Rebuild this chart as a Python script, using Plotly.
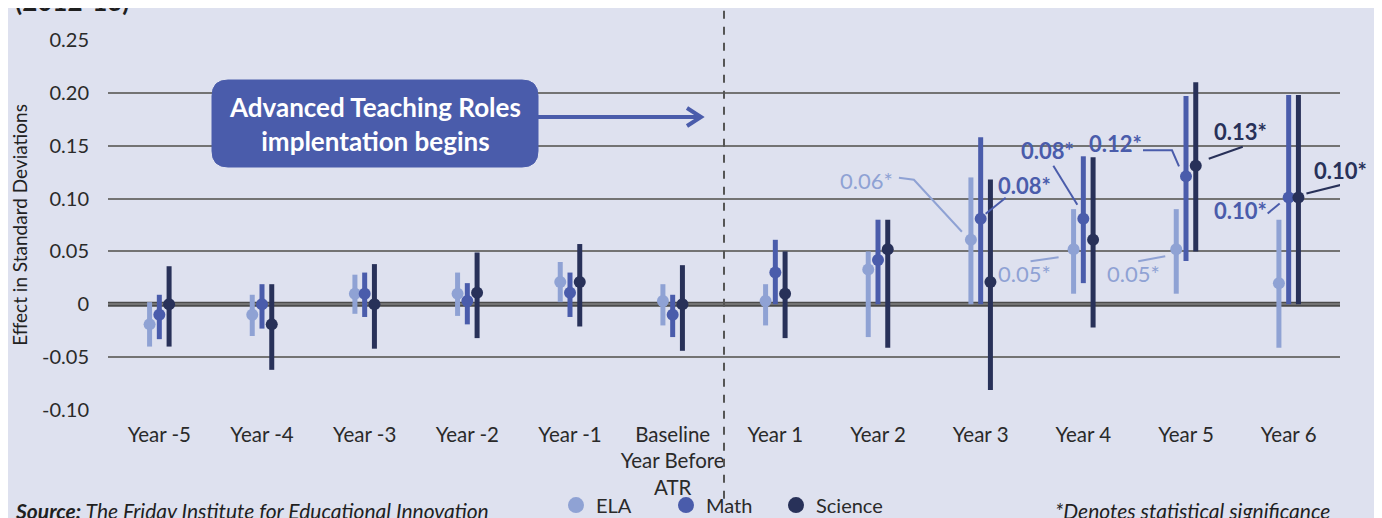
import plotly.graph_objects as go

# ---------------- data ----------------
categories = ["Year -5", "Year -4", "Year -3", "Year -2", "Year -1",
              "Baseline<br>Year Before<br>ATR",
              "Year 1", "Year 2", "Year 3", "Year 4", "Year 5", "Year 6"]

ela_est = [-0.019, -0.010, 0.010, 0.010, 0.021, 0.003, 0.003, 0.033, 0.061, 0.052, 0.052, 0.020]
ela_lo = [-0.040, -0.030, -0.009, -0.011, 0.002, -0.020, -0.020, -0.031, 0.000, 0.010, 0.010, -0.041]
ela_hi = [0.002, 0.009, 0.028, 0.030, 0.040, 0.019, 0.019, 0.050, 0.120, 0.090, 0.090, 0.080]

math_est = [-0.010, 0.000, 0.010, 0.003, 0.011, -0.010, 0.030, 0.042, 0.081, 0.081, 0.121, 0.101]
math_lo = [-0.033, -0.023, -0.012, -0.019, -0.012, -0.031, 0.000, 0.000, 0.000, 0.020, 0.041, 0.000]
math_hi = [0.009, 0.019, 0.030, 0.020, 0.030, 0.009, 0.061, 0.080, 0.158, 0.140, 0.197, 0.198]

sci_est = [0.000, -0.019, 0.000, 0.011, 0.021, 0.000, 0.010, 0.052, 0.021, 0.061, 0.131, 0.101]
sci_lo = [-0.040, -0.062, -0.042, -0.032, -0.021, -0.044, -0.032, -0.041, -0.081, -0.022, 0.050, 0.000]
sci_hi = [0.036, 0.019, 0.038, 0.049, 0.057, 0.037, 0.050, 0.080, 0.118, 0.139, 0.210, 0.198]

series_names = ["ELA", "Math", "Science"]
ytick_vals = [0.25, 0.20, 0.15, 0.10, 0.05, 0, -0.05, -0.10]
ytick_text = ["0.25", "0.20", "0.15", "0.10", "0.05", "0", "-0.05", "-0.10"]

# significant estimates to label: (series index, category index)
sig_points = [(0, 8), (1, 8), (0, 9), (1, 9), (0, 10), (1, 10), (2, 10), (1, 11), (2, 11)]

# ---------------- styles ----------------
FONT = "Lato"
BG = "#dee1ef"
TXT = "#2a2a2a"
COLORS = ["#8fa2d4", "#4a5cab", "#283159"]
OFFSETS = [-0.095, 0.0, 0.095]
BOLD = [False, True, True]
# label placement (pixel offsets relative to the point) and leader paths
LABEL_STYLE = {
    (0, 8): dict(text=(-104, 59), path=[(-72, 62), (-57, 60), (-9, 8)]),
    (1, 8): dict(text=(44, 33), path=[(5, 5), (25, 21)]),
    (0, 9): dict(text=(-49, -24), path=[(-43, -12), (-15, -8)]),
    (1, 9): dict(text=(-36, 68), path=[(-30, 53), (-6, 14)]),
    (0, 10): dict(text=(-43, -24), path=[(-38, -12), (-11, -7)]),
    (1, 10): dict(text=(-71, 33), path=[(-43, 26), (-14, 26), (-7, 10)]),
    (2, 10): dict(text=(45, 34), path=[(13, 7), (47, 19)]),
    (1, 11): dict(text=(-48, -13), path=[(-21, -16), (-9, -6)]),
    (2, 11): dict(text=(42, 27), path=[(8, 4), (48, 14)]),
}

# the page body adds an 8px offset; the figure is sized so the plot area lands
# at the same place as in the reference
PAGE_PAD = 8
PLOT_W = 1232

est = [ela_est, math_est, sci_est]
lo = [ela_lo, math_lo, sci_lo]
hi = [ela_hi, math_hi, sci_hi]

fig = go.Figure()
xs_base = list(range(len(categories)))
for s in range(3):
    xs = [x + OFFSETS[s] for x in xs_base]
    fig.add_trace(go.Scatter(
        x=xs, y=est[s], mode="markers", showlegend=False,
        marker=dict(color=COLORS[s], size=12),
        error_y=dict(type="data", symmetric=False,
                     array=[h - e for h, e in zip(hi[s], est[s])],
                     arrayminus=[e - l for e, l in zip(est[s], lo[s])],
                     color=COLORS[s], thickness=5, width=0),
        name=series_names[s]))

for s in range(3):
    fig.add_trace(go.Scatter(
        x=[None], y=[None], mode="markers", name=series_names[s],
        marker=dict(color=COLORS[s], size=16, symbol="circle")))

shapes = []
annotations = []

# leader lines + labels
for (s, c) in sig_points:
    st = LABEL_STYLE[(s, c)]
    xv = c + OFFSETS[s]
    yv = est[s][c]
    path = "M " + " L ".join(f"{dx} {dy}" for dx, dy in st["path"])
    shapes.append(dict(type="path", xref="x", yref="y", xsizemode="pixel", ysizemode="pixel",
                       xanchor=xv, yanchor=yv, path=path,
                       line=dict(color=COLORS[s], width=2)))
    txt = f"{yv:.2f}*"
    if BOLD[s]:
        txt = f"<b>{txt}</b>"
    annotations.append(dict(x=xv, y=yv, xref="x", yref="y", text=txt, showarrow=False,
                            xshift=st["text"][0], yshift=st["text"][1],
                            font=dict(family=FONT, size=22, color=COLORS[s])))

# zero line
shapes.append(dict(type="line", xref="paper", yref="y", x0=0, x1=1, y0=0, y1=0,
                   line=dict(color="#4b4b4b", width=5), layer="below"))
# dashed vertical separator
shapes.append(dict(type="line", xref="x", yref="paper", x0=5.5, x1=5.5, y0=-0.24, y1=1.12,
                   line=dict(color="#555555", width=2, dash="8px,8px")))

# callout box (pixel path anchored at top-left of plot area)
r = 16
bx0, bx1, by0, by1 = 104, 430, -40, -127
box = (f"M {bx0 + r} {by0} L {bx1 - r} {by0} Q {bx1} {by0} {bx1} {by0 - r} "
       f"L {bx1} {by1 + r} Q {bx1} {by1} {bx1 - r} {by1} "
       f"L {bx0 + r} {by1} Q {bx0} {by1} {bx0} {by1 + r} "
       f"L {bx0} {by0 - r} Q {bx0} {by0} {bx0 + r} {by0} Z")
shapes.append(dict(type="path", xref="paper", yref="paper", xsizemode="pixel", ysizemode="pixel",
                   xanchor=0, yanchor=1, path=box, fillcolor=COLORS[1],
                   line=dict(color=COLORS[1], width=1)))
# arrow from box
shapes.append(dict(type="path", xref="paper", yref="paper", xsizemode="pixel", ysizemode="pixel",
                   xanchor=0, yanchor=1, path="M 430 -77 L 592 -77",
                   line=dict(color=COLORS[1], width=4)))
shapes.append(dict(type="path", xref="paper", yref="paper", xsizemode="pixel", ysizemode="pixel",
                   xanchor=0, yanchor=1, path="M 579 -68 L 593 -77 L 579 -86",
                   line=dict(color=COLORS[1], width=4)))
annotations.append(dict(x=(bx0 + bx1) / 2 / PLOT_W, y=1, xref="paper", yref="paper",
                        xanchor="center", yanchor="middle", yshift=(by0 + by1) / 2,
                        text="<b>Advanced Teaching Roles<br>implentation begins</b>", showarrow=False,
                        font=dict(family=FONT, size=26, color="white")))

# title remnant, source and note
annotations.append(dict(x=0, y=1, xref="paper", yref="paper", xanchor="left", yanchor="bottom",
                        xshift=-95, yshift=21, text="<b>(2012-13)</b>", showarrow=False,
                        font=dict(family=FONT, size=26, color="#1f1f1f")))
annotations.append(dict(x=0, y=0, xref="paper", yref="paper", xanchor="left", yanchor="middle",
                        xshift=-95, yshift=-100,
                        text="<b><i>Source:</i></b><i> The Friday Institute for Educational Innovation</i>",
                        showarrow=False, font=dict(family=FONT, size=21, color="#1f1f1f")))
annotations.append(dict(x=1, y=0, xref="paper", yref="paper", xanchor="right", yanchor="middle",
                        xshift=-8, yshift=-100, text="<i>*Denotes statistical significance</i>",
                        showarrow=False, font=dict(family=FONT, size=21, color="#1f1f1f")))

fig.update_layout(
    width=1382 - PAGE_PAD, height=518 - PAGE_PAD,
    paper_bgcolor=BG, plot_bgcolor=BG,
    margin=dict(l=108 - PAGE_PAD, r=42, t=40 - PAGE_PAD, b=108, autoexpand=False),
    font=dict(family=FONT, size=20, color=TXT),
    shapes=shapes, annotations=annotations,
    legend=dict(orientation="h", x=(556 - 108) / PLOT_W, xanchor="left", y=-0.257, yanchor="middle",
                font=dict(family=FONT, size=20, color=TXT), bgcolor="rgba(0,0,0,0)",
                itemsizing="trace", entrywidth=65, entrywidthmode="pixels"),
    xaxis=dict(range=[-0.5, len(categories) - 0.5], tickvals=xs_base, ticktext=categories,
               showgrid=False, zeroline=False, showline=False, automargin=False,
               ticks="outside", ticklen=6, tickcolor=BG,
               tickfont=dict(family=FONT, size=20.5, color=TXT)),
    yaxis=dict(range=[-0.10, 0.25], tickvals=ytick_vals, ticktext=ytick_text,
               showgrid=True, gridcolor="#737373", gridwidth=2, zeroline=False, showline=False,
               ticks="outside", ticklen=14, tickcolor=BG, automargin=False,
               tickfont=dict(family=FONT, size=20, color=TXT),
               title=dict(text="Effect in Standard Deviations", standoff=14,
                          font=dict(family=FONT, size=19, color="#222222"))),
)

fig.write_html("out.html")
